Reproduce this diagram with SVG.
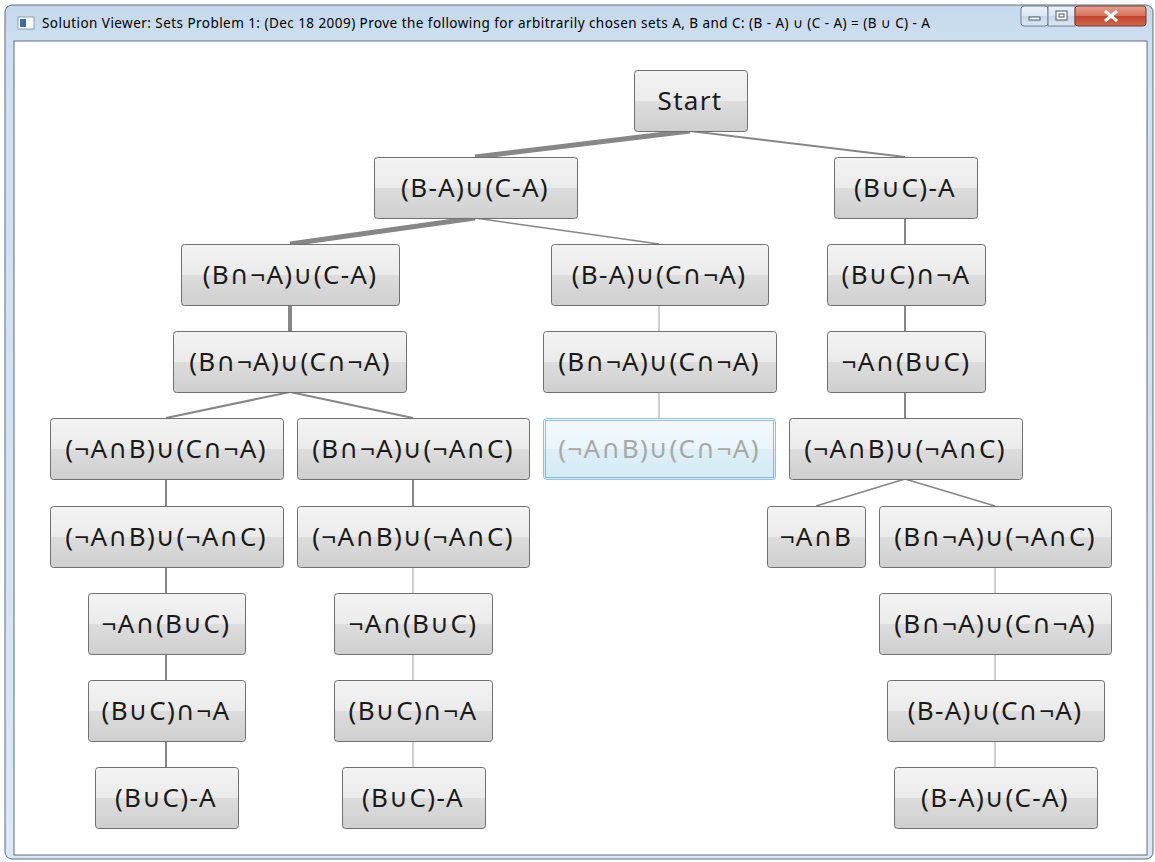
<svg xmlns="http://www.w3.org/2000/svg" width="1155" height="862" viewBox="0 0 1155 862">
  <defs>
    <linearGradient id="btn" x1="0" y1="0" x2="0" y2="1">
      <stop offset="0" stop-color="#f3f3f3"/>
      <stop offset="0.5" stop-color="#ebebeb"/>
      <stop offset="0.5" stop-color="#dddddd"/>
      <stop offset="1" stop-color="#cfcfcf"/>
    </linearGradient>
    <linearGradient id="btnSel" x1="0" y1="0" x2="0" y2="1">
      <stop offset="0" stop-color="#f2f9fd"/>
      <stop offset="0.5" stop-color="#eaf5fc"/>
      <stop offset="0.5" stop-color="#ddeff9"/>
      <stop offset="1" stop-color="#d5ebf7"/>
    </linearGradient>
    <linearGradient id="frame" x1="0" y1="0" x2="0" y2="1">
      <stop offset="0" stop-color="#c4d8ec"/>
      <stop offset="0.05" stop-color="#cfe0f1"/>
      <stop offset="1" stop-color="#dbe8f5"/>
    </linearGradient>
    <linearGradient id="closeBtn" x1="0" y1="0" x2="0" y2="1">
      <stop offset="0" stop-color="#e8a08f"/>
      <stop offset="0.5" stop-color="#d5705a"/>
      <stop offset="0.5" stop-color="#c2422a"/>
      <stop offset="1" stop-color="#d0694e"/>
    </linearGradient>
    <linearGradient id="ctrlBtn" x1="0" y1="0" x2="0" y2="1">
      <stop offset="0" stop-color="#eef3f9"/>
      <stop offset="0.5" stop-color="#dbe6f2"/>
      <stop offset="0.5" stop-color="#c8d7e8"/>
      <stop offset="1" stop-color="#dae6f3"/>
    </linearGradient>
    <style>
      .box { fill: url(#btn); stroke: #707070; stroke-width: 1; }
      .sel { fill: url(#btnSel); stroke: #8cc3e6; stroke-width: 1; }
      .focus { fill: none; stroke: #4f7f9f; stroke-width: 1; stroke-dasharray: 1 1; }
      .lbl { font-family: "Noto Sans", "DejaVu Sans", sans-serif; font-size: 26px; letter-spacing: 1.3px; fill: #1a1a1a; text-anchor: middle; }
      .lblSel { fill: #a8a8a8; }
      .e1 { stroke: #878787; stroke-width: 2; fill: none; }
      .e2 { stroke: #878787; stroke-width: 1.5; fill: none; }
      .e3 { stroke: #c0c0c0; stroke-width: 1.5; fill: none; }
      .eThick { stroke: #878787; stroke-width: 5; fill: none; }
      .eMid { stroke: #878787; stroke-width: 4; fill: none; }
      .title { font-family: "Noto Sans", "DejaVu Sans", sans-serif; font-size: 13.5px; letter-spacing: 0.45px; fill: #000; }
    </style>
  </defs>

  <!-- window chrome -->
  <rect x="0" y="0" width="1155" height="862" fill="#ffffff"/>
  <rect x="5" y="5" width="1148" height="854" rx="7" fill="url(#frame)" stroke="#5e6c7c" stroke-width="1"/>
  <rect x="14" y="41" width="1133" height="814" fill="#ffffff" stroke="#5f6e80" stroke-width="1"/>
  <g id="title-bar">
    <rect x="18" y="17" width="16" height="12" fill="#ffffff" stroke="#8a9aac" stroke-width="1"/>
    <rect x="20" y="19" width="6" height="8" fill="#3a6f9e"/>
    <text class="title" x="42" y="28">Solution Viewer: Sets Problem 1: (Dec 18 2009) Prove the following for arbitrarily chosen sets A, B and C: (B - A) ∪ (C - A) = (B ∪ C) - A</text>
    <rect x="1021" y="6" width="27" height="20" rx="3" fill="url(#ctrlBtn)" stroke="#6f7f92" stroke-width="1"/>
    <rect x="1029" y="17" width="11" height="3" fill="#ffffff" stroke="#435670" stroke-width="1"/>
    <rect x="1048" y="6" width="27" height="20" fill="url(#ctrlBtn)" stroke="#6f7f92" stroke-width="1"/>
    <rect x="1056" y="11" width="11" height="9" fill="#ffffff" stroke="#435670" stroke-width="1"/>
    <rect x="1059" y="14" width="5" height="3" fill="none" stroke="#435670" stroke-width="1"/>
    <rect x="1075" y="6" width="71" height="20" rx="3" fill="url(#closeBtn)" stroke="#7a3a30" stroke-width="1"/>
    <path d="M1105,11 L1117,21 M1117,11 L1105,21" stroke="#ffffff" stroke-width="3"/>
  </g>

  <!-- connectors: parent bottom-centre to child top-centre -->
  <g id="connectors">
    <line class="eThick" x1="690" y1="131" x2="475" y2="157"/>
    <line class="e1" x1="690" y1="131" x2="905" y2="157"/>
    <line class="eThick" x1="475" y1="218" x2="290" y2="244"/>
    <line class="e2" x1="475" y1="218" x2="659" y2="244"/>
    <line class="e1" x1="905" y1="218" x2="905" y2="244"/>
    <line class="eMid" x1="290" y1="305" x2="290" y2="331"/>
    <line class="e3" x1="659" y1="305" x2="659" y2="331"/>
    <line class="e1" x1="905" y1="305" x2="905" y2="331"/>
    <line class="e1" x1="290" y1="392" x2="166" y2="418"/>
    <line class="e1" x1="290" y1="392" x2="413" y2="418"/>
    <line class="e3" x1="659" y1="392" x2="659" y2="418"/>
    <line class="e1" x1="905" y1="392" x2="905" y2="418"/>
    <line class="e1" x1="166" y1="479" x2="166" y2="506"/>
    <line class="e1" x1="413" y1="479" x2="413" y2="506"/>
    <line class="e2" x1="905" y1="479" x2="816" y2="506"/>
    <line class="e2" x1="905" y1="479" x2="995" y2="506"/>
    <line class="e1" x1="166" y1="567" x2="166" y2="593"/>
    <line class="e3" x1="413" y1="567" x2="413" y2="593"/>
    <line class="e3" x1="995" y1="567" x2="995" y2="593"/>
    <line class="e1" x1="166" y1="654" x2="166" y2="680"/>
    <line class="e3" x1="413" y1="654" x2="413" y2="680"/>
    <line class="e3" x1="995" y1="654" x2="995" y2="680"/>
    <line class="e1" x1="166" y1="741" x2="166" y2="767"/>
    <line class="e3" x1="413" y1="741" x2="413" y2="767"/>
    <line class="e3" x1="995" y1="741" x2="995" y2="767"/>
  </g>

  <!-- nodes -->
  <g id="n-start"><rect class="box" x="634.5" y="70.5" width="113" height="61" rx="3"/><text class="lbl" x="690" y="110">Start</text></g>
  <g id="n-1a"><rect class="box" x="374.5" y="157.5" width="203" height="61" rx="3"/><text class="lbl" x="475" y="197">(B-A)∪(C-A)</text></g>
  <g id="n-1b"><rect class="box" x="834.5" y="157.5" width="143" height="61" rx="3"/><text class="lbl" x="905" y="197">(B∪C)-A</text></g>

  <g id="n-2a"><rect class="box" x="181.5" y="244.5" width="218" height="61" rx="3"/><text class="lbl" x="290" y="284">(B∩¬A)∪(C-A)</text></g>
  <g id="n-2b"><rect class="box" x="551.5" y="244.5" width="217" height="61" rx="3"/><text class="lbl" x="659" y="284">(B-A)∪(C∩¬A)</text></g>
  <g id="n-2c"><rect class="box" x="827.5" y="244.5" width="158" height="61" rx="3"/><text class="lbl" x="906" y="284">(B∪C)∩¬A</text></g>

  <g id="n-3a"><rect class="box" x="173.5" y="331.5" width="233" height="61" rx="3"/><text class="lbl" x="290" y="371">(B∩¬A)∪(C∩¬A)</text></g>
  <g id="n-3b"><rect class="box" x="543.5" y="331.5" width="233" height="61" rx="3"/><text class="lbl" x="659" y="371">(B∩¬A)∪(C∩¬A)</text></g>
  <g id="n-3c"><rect class="box" x="827.5" y="331.5" width="158" height="61" rx="3"/><text class="lbl" x="906" y="371">¬A∩(B∪C)</text></g>

  <g id="n-4a"><rect class="box" x="50.5" y="418.5" width="233" height="61" rx="3"/><text class="lbl" x="166" y="458">(¬A∩B)∪(C∩¬A)</text></g>
  <g id="n-4b"><rect class="box" x="297.5" y="418.5" width="232" height="61" rx="3"/><text class="lbl" x="413" y="458">(B∩¬A)∪(¬A∩C)</text></g>
  <g id="n-4c"><rect class="sel" x="543.5" y="418.5" width="232" height="61" rx="3"/><rect class="focus" x="545.5" y="420.5" width="228" height="57"/><text class="lbl lblSel" x="659" y="458">(¬A∩B)∪(C∩¬A)</text></g>
  <g id="n-4d"><rect class="box" x="789.5" y="418.5" width="233" height="61" rx="3"/><text class="lbl" x="905" y="458">(¬A∩B)∪(¬A∩C)</text></g>

  <g id="n-5a"><rect class="box" x="50.5" y="506.5" width="233" height="61" rx="3"/><text class="lbl" x="166" y="546">(¬A∩B)∪(¬A∩C)</text></g>
  <g id="n-5b"><rect class="box" x="297.5" y="506.5" width="232" height="61" rx="3"/><text class="lbl" x="413" y="546">(¬A∩B)∪(¬A∩C)</text></g>
  <g id="n-5c"><rect class="box" x="767.5" y="506.5" width="98" height="61" rx="3"/><text class="lbl" x="816" y="546">¬A∩B</text></g>
  <g id="n-5d"><rect class="box" x="879.5" y="506.5" width="232" height="61" rx="3"/><text class="lbl" x="995" y="546">(B∩¬A)∪(¬A∩C)</text></g>

  <g id="n-6a"><rect class="box" x="88.5" y="593.5" width="157" height="61" rx="3"/><text class="lbl" x="166" y="633">¬A∩(B∪C)</text></g>
  <g id="n-6b"><rect class="box" x="334.5" y="593.5" width="158" height="61" rx="3"/><text class="lbl" x="413" y="633">¬A∩(B∪C)</text></g>
  <g id="n-6c"><rect class="box" x="879.5" y="593.5" width="232" height="61" rx="3"/><text class="lbl" x="995" y="633">(B∩¬A)∪(C∩¬A)</text></g>

  <g id="n-7a"><rect class="box" x="88.5" y="680.5" width="157" height="61" rx="3"/><text class="lbl" x="166" y="720">(B∪C)∩¬A</text></g>
  <g id="n-7b"><rect class="box" x="334.5" y="680.5" width="158" height="61" rx="3"/><text class="lbl" x="413" y="720">(B∪C)∩¬A</text></g>
  <g id="n-7c"><rect class="box" x="887.5" y="680.5" width="217" height="61" rx="3"/><text class="lbl" x="995" y="720">(B-A)∪(C∩¬A)</text></g>

  <g id="n-8a"><rect class="box" x="95.5" y="767.5" width="143" height="61" rx="3"/><text class="lbl" x="166" y="807">(B∪C)-A</text></g>
  <g id="n-8b"><rect class="box" x="342.5" y="767.5" width="143" height="61" rx="3"/><text class="lbl" x="413" y="807">(B∪C)-A</text></g>
  <g id="n-8c"><rect class="box" x="894.5" y="767.5" width="203" height="61" rx="3"/><text class="lbl" x="995" y="807">(B-A)∪(C-A)</text></g>
</svg>
